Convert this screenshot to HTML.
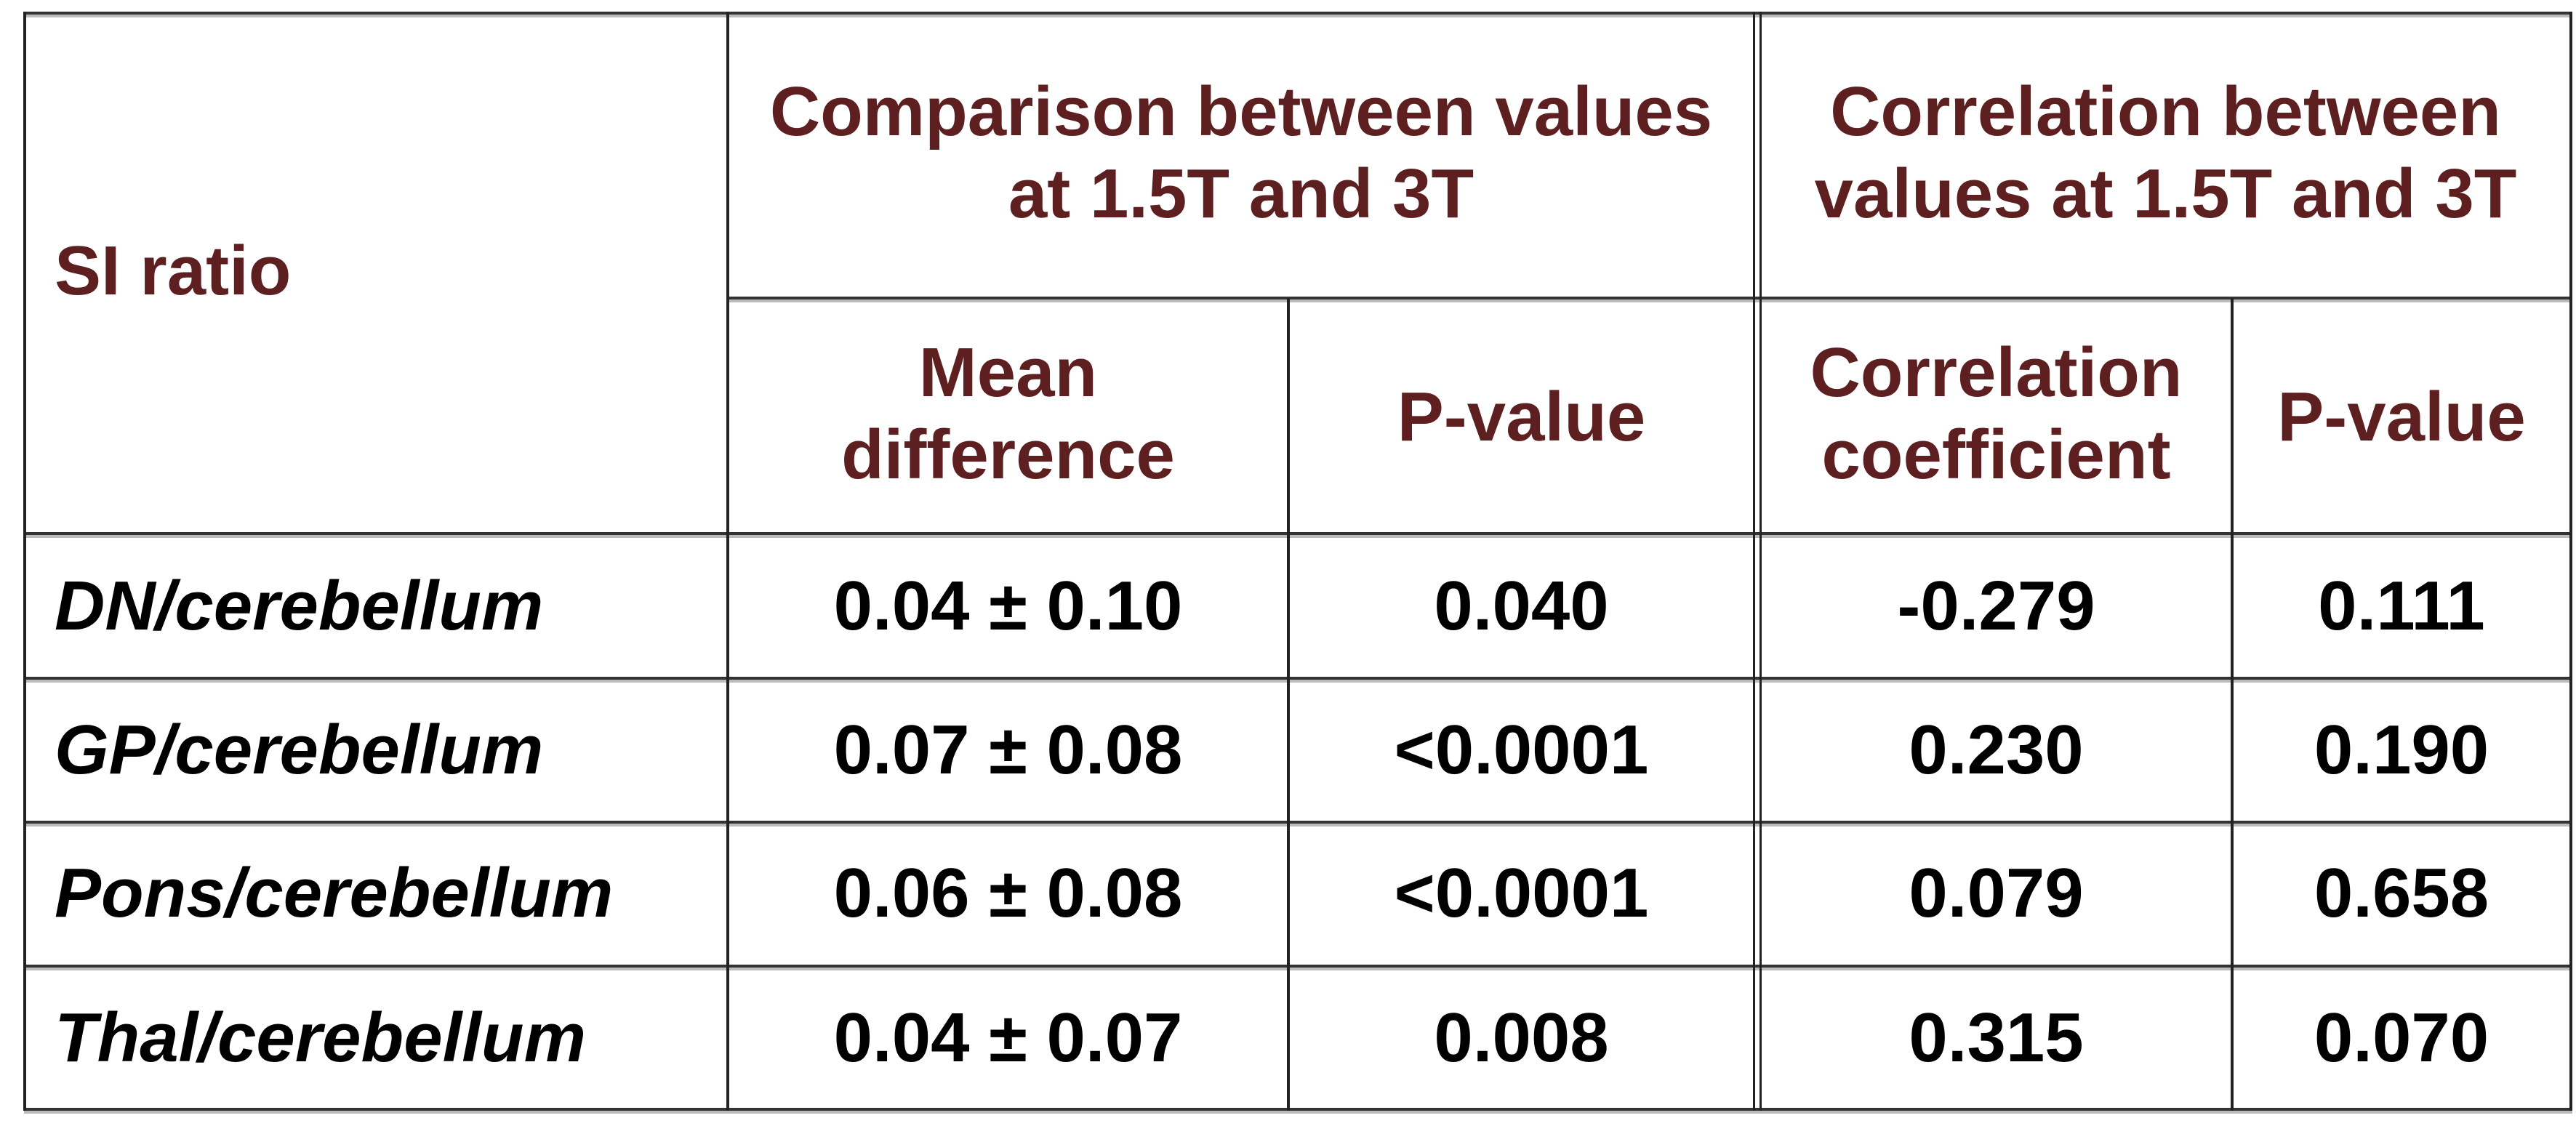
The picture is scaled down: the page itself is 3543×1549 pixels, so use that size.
<!DOCTYPE html>
<html><head><meta charset="utf-8"><style>
html,body{margin:0;padding:0;background:#fff;}
body{width:3543px;height:1549px;position:relative;overflow:hidden;font-family:"Liberation Sans",Arial,sans-serif;font-weight:bold;}
.h{position:absolute;height:4px;background:#333;box-shadow:0 4px 0 #bbb;}
.v{position:absolute;width:4px;background:#222;}
.t{position:absolute;text-align:center;font-size:96px;line-height:113px;white-space:nowrap;}
.r{color:#5e1f20;}
.k{color:#000;}
.l{position:absolute;left:75px;font-size:96px;line-height:113px;font-style:italic;color:#000;white-space:nowrap;}
</style></head><body>
<div class="h" style="left:33px;width:3505px;top:16px"></div>
<div class="h" style="left:999px;width:2539px;top:408px"></div>
<div class="h" style="left:33px;width:3505px;top:732px"></div>
<div class="h" style="left:33px;width:3505px;top:931px"></div>
<div class="h" style="left:33px;width:3505px;top:1129px"></div>
<div class="h" style="left:33px;width:3505px;top:1327px"></div>
<div class="h" style="left:33px;width:3505px;top:1524px"></div>

<div class="v" style="left:32px;top:16px;height:1512px"></div>
<div class="v" style="left:999px;top:16px;height:1512px"></div>
<div class="v" style="left:1770px;top:410px;height:1118px"></div>
<div class="v" style="left:2411px;top:16px;height:1512px;width:3px"></div>
<div class="v" style="left:2420px;top:16px;height:1512px;width:3px"></div>
<div class="v" style="left:3068px;top:410px;height:1118px"></div>
<div class="v" style="left:3534px;top:16px;height:1512px"></div>

<div class="t r" style="left:75px;top:316px;text-align:left">SI ratio</div>
<div class="t r" style="left:1003px;width:1408px;top:97px">Comparison between values<br>at 1.5T and 3T</div>
<div class="t r" style="left:2423px;width:1111px;top:97px">Correlation between<br>values at 1.5T and 3T</div>
<div class="t r" style="left:1003px;width:767px;top:456px">Mean<br>difference</div>
<div class="t r" style="left:1774px;width:637px;top:517px">P-value</div>
<div class="t r" style="left:2423px;width:645px;top:456px">Correlation<br>coefficient</div>
<div class="t r" style="left:3072px;width:462px;top:517px">P-value</div>

<div class="l" style="top:777px">DN/cerebellum</div>
<div class="l" style="top:975px">GP/cerebellum</div>
<div class="l" style="top:1172px">Pons/cerebellum</div>
<div class="l" style="top:1371px">Thal/cerebellum</div>

<div class="t k" style="left:1003px;width:767px;top:777px">0.04 ± 0.10</div>
<div class="t k" style="left:1774px;width:637px;top:777px">0.040</div>
<div class="t k" style="left:2423px;width:645px;top:777px">-0.279</div>
<div class="t k" style="left:3072px;width:462px;top:777px">0.111</div>

<div class="t k" style="left:1003px;width:767px;top:975px">0.07 ± 0.08</div>
<div class="t k" style="left:1774px;width:637px;top:975px">&lt;0.0001</div>
<div class="t k" style="left:2423px;width:645px;top:975px">0.230</div>
<div class="t k" style="left:3072px;width:462px;top:975px">0.190</div>

<div class="t k" style="left:1003px;width:767px;top:1172px">0.06 ± 0.08</div>
<div class="t k" style="left:1774px;width:637px;top:1172px">&lt;0.0001</div>
<div class="t k" style="left:2423px;width:645px;top:1172px">0.079</div>
<div class="t k" style="left:3072px;width:462px;top:1172px">0.658</div>

<div class="t k" style="left:1003px;width:767px;top:1371px">0.04 ± 0.07</div>
<div class="t k" style="left:1774px;width:637px;top:1371px">0.008</div>
<div class="t k" style="left:2423px;width:645px;top:1371px">0.315</div>
<div class="t k" style="left:3072px;width:462px;top:1371px">0.070</div>
</body></html>
